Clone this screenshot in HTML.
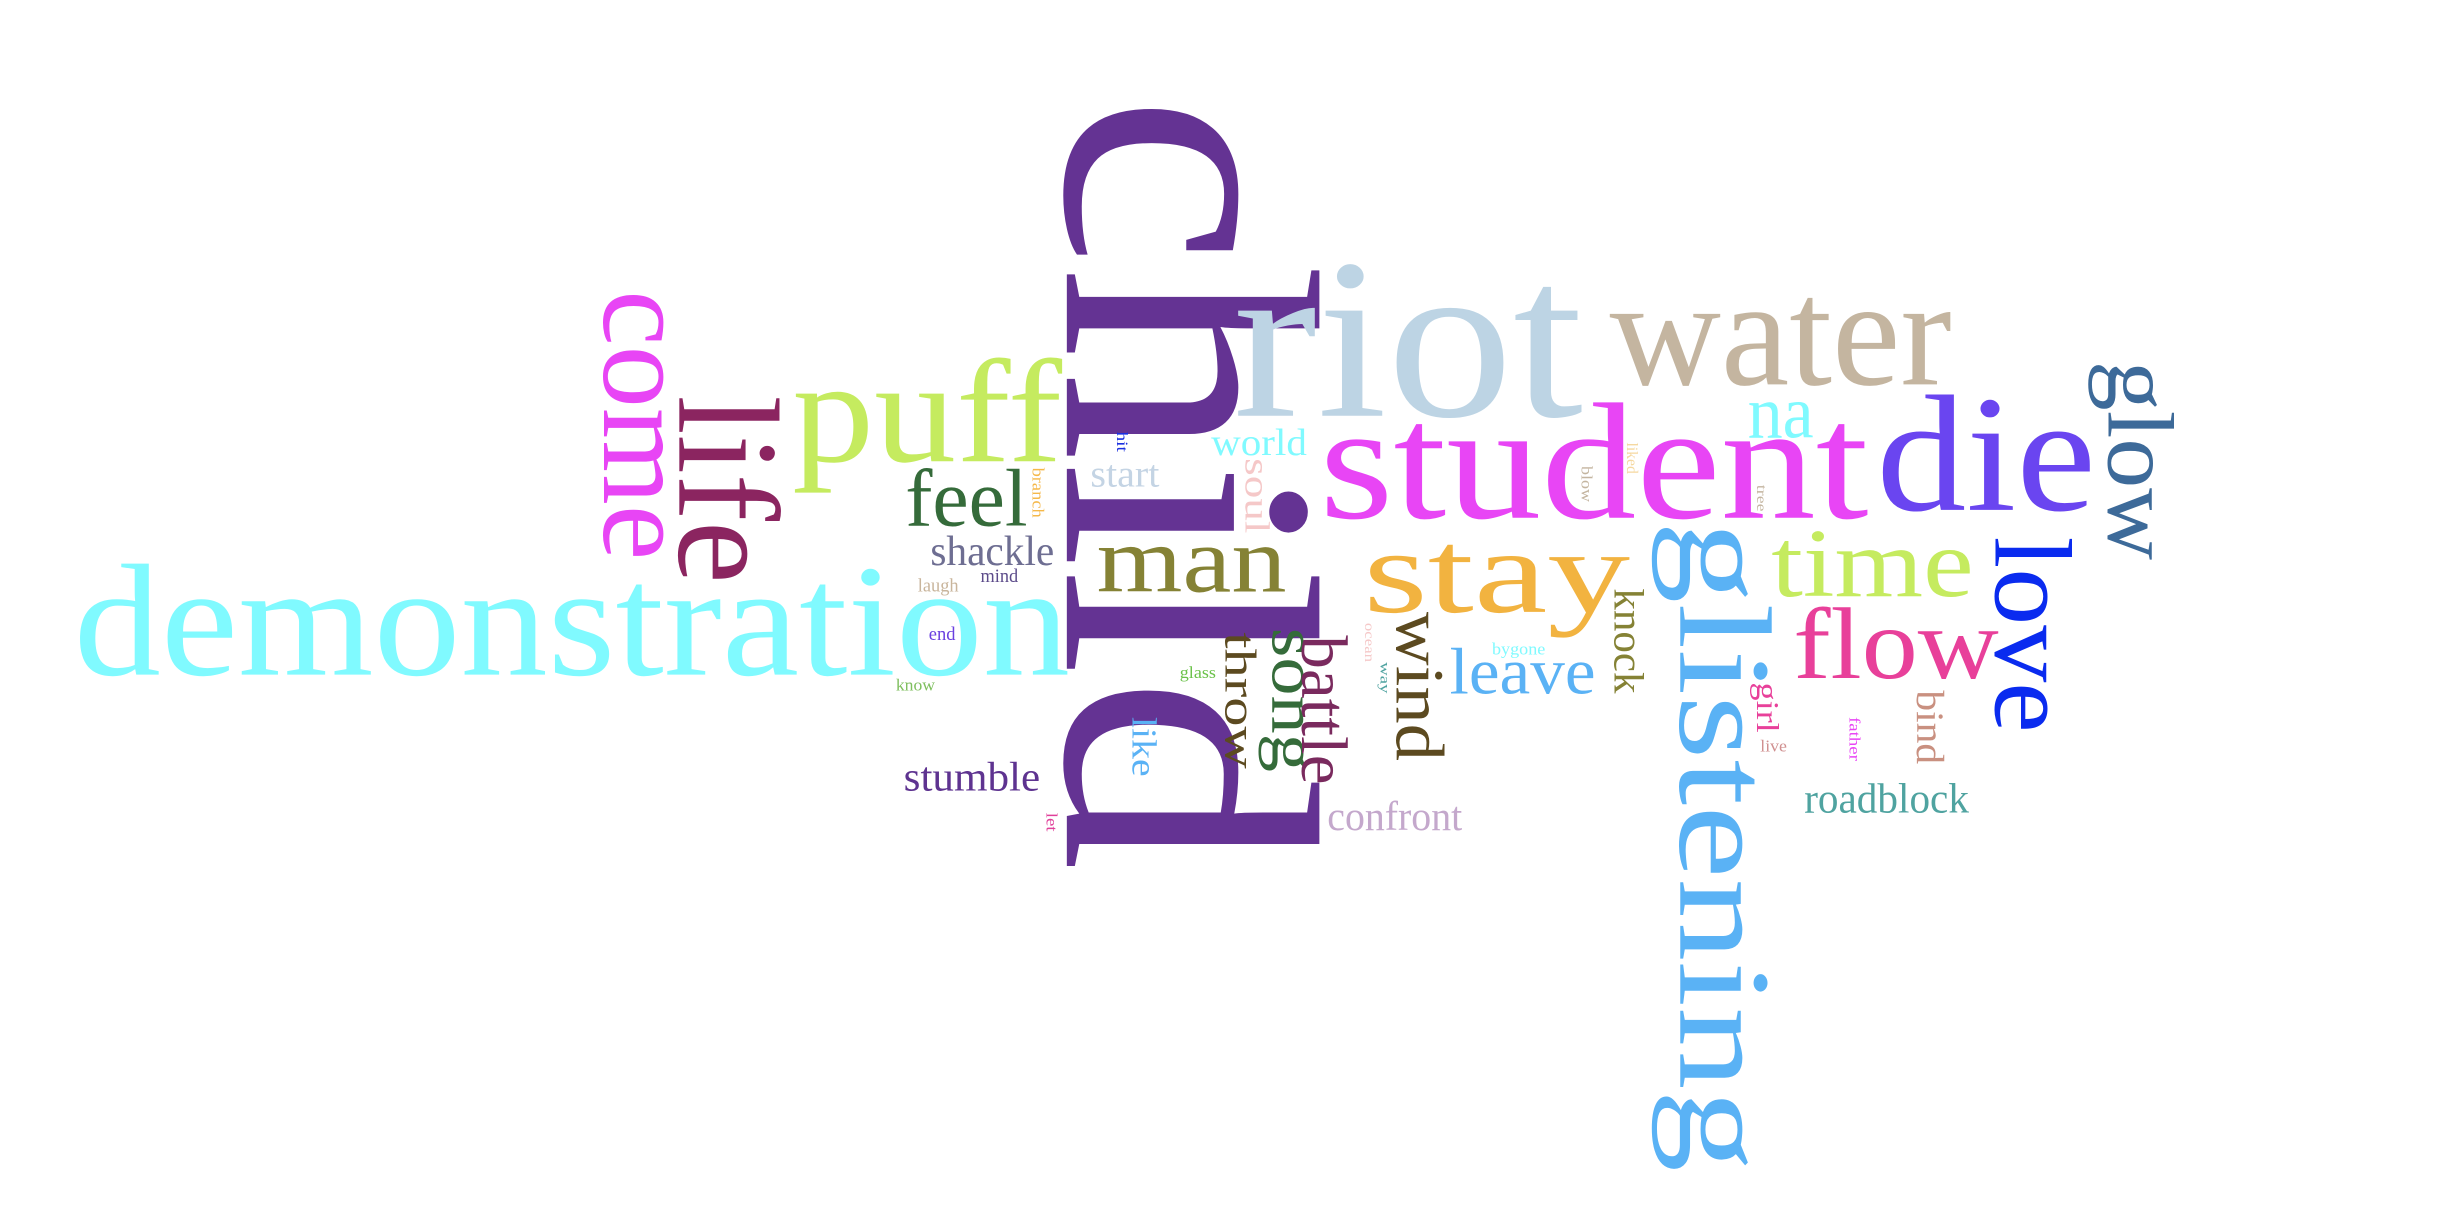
<!DOCTYPE html>
<html><head><meta charset="utf-8"><style>
html,body{margin:0;padding:0;background:#fff;width:2460px;height:1226px;overflow:hidden}
svg text{font-family:"Liberation Serif","DejaVu Serif",serif}
</style></head><body>
<svg width="2460" height="1226" viewBox="0 0 1568 781.4" xmlns="http://www.w3.org/2000/svg">
<rect width="1568" height="781.4" fill="#fff"/>
<!-- rotated words: translate(baselineX, startY) rotate(90) -->
<text transform="translate(680,60) rotate(90)" font-size="232" fill="#643393" textLength="495" lengthAdjust="spacingAndGlyphs">child</text>
<text transform="translate(1071,332) rotate(90)" font-size="84" fill="#5AB2F5" textLength="415" lengthAdjust="spacingAndGlyphs">glistening</text>
<text transform="translate(385,185) rotate(90)" font-size="80" fill="#E845F5" textLength="172" lengthAdjust="spacingAndGlyphs">come</text>
<text transform="translate(433,252) rotate(90)" font-size="92" fill="#8B2560" textLength="120" lengthAdjust="spacingAndGlyphs">life</text>
<text transform="translate(1272,342) rotate(90)" font-size="70" fill="#0A2BEF" textLength="125" lengthAdjust="spacingAndGlyphs">love</text>
<text transform="translate(1344,230) rotate(90)" font-size="60" fill="#3D6A99" textLength="127" lengthAdjust="spacingAndGlyphs">glow</text>
<text transform="translate(811,400) rotate(90)" font-size="42" fill="#356B3A" textLength="92" lengthAdjust="spacingAndGlyphs">song</text>
<text transform="translate(830,405) rotate(90)" font-size="42" fill="#7A2A5E" textLength="95" lengthAdjust="spacingAndGlyphs">battle</text>
<text transform="translate(890,390) rotate(90)" font-size="44" fill="#5C4A20" textLength="95" lengthAdjust="spacingAndGlyphs">wind</text>
<text transform="translate(781,403) rotate(90)" font-size="28" fill="#5C4A20" textLength="87" lengthAdjust="spacingAndGlyphs">throw</text>
<text transform="translate(794,292) rotate(90)" font-size="22" fill="#F5C8C8" textLength="48" lengthAdjust="spacingAndGlyphs">soul</text>
<text transform="translate(1029,375) rotate(90)" font-size="27" fill="#858235" textLength="67" lengthAdjust="spacingAndGlyphs">knock</text>
<text transform="translate(1222,440) rotate(90)" font-size="25" fill="#C99080" textLength="47" lengthAdjust="spacingAndGlyphs">bind</text>
<text transform="translate(1120,435) rotate(90)" font-size="20" fill="#E8409A" textLength="32" lengthAdjust="spacingAndGlyphs">girl</text>
<text transform="translate(1179,457) rotate(90)" font-size="10" fill="#E845F5" textLength="28" lengthAdjust="spacingAndGlyphs">father</text>
<text transform="translate(722,457) rotate(90)" font-size="22" fill="#5AB2F5" textLength="38" lengthAdjust="spacingAndGlyphs">like</text>
<text transform="translate(667,518) rotate(90)" font-size="10" fill="#E0409A" textLength="12" lengthAdjust="spacingAndGlyphs">let</text>
<text transform="translate(658,298) rotate(90)" font-size="11" fill="#F5B84A" textLength="32" lengthAdjust="spacingAndGlyphs">branch</text>
<text transform="translate(712,275) rotate(90)" font-size="10" fill="#1A2FE0" textLength="13" lengthAdjust="spacingAndGlyphs">hit</text>
<text transform="translate(870,397) rotate(90)" font-size="9" fill="#F5C8C8" textLength="25" lengthAdjust="spacingAndGlyphs">ocean</text>
<text transform="translate(880,422) rotate(90)" font-size="9" fill="#4FA3A0" textLength="20" lengthAdjust="spacingAndGlyphs">way</text>
<text transform="translate(1037,282) rotate(90)" font-size="10" fill="#F5D8A0" textLength="20" lengthAdjust="spacingAndGlyphs">liked</text>
<text transform="translate(1008,297) rotate(90)" font-size="10" fill="#C4B5A0" textLength="23" lengthAdjust="spacingAndGlyphs">blow</text>
<text transform="translate(1120,309) rotate(90)" font-size="9" fill="#C4B5A0" textLength="17" lengthAdjust="spacingAndGlyphs">tree</text>
<!-- horizontal words -->
<text x="47" y="430" font-size="102" fill="#80FAFF" textLength="635" lengthAdjust="spacingAndGlyphs">demonstration</text>
<text x="505" y="294" font-size="94" fill="#C5EB5F" textLength="172" lengthAdjust="spacingAndGlyphs">puff</text>
<text x="577" y="335" font-size="52" fill="#356B3A" textLength="78" lengthAdjust="spacingAndGlyphs">feel</text>
<text x="593" y="360" font-size="27" fill="#6E6E92" textLength="79" lengthAdjust="spacingAndGlyphs">shackle</text>
<text x="625" y="371" font-size="12" fill="#5C4B8A" textLength="24" lengthAdjust="spacingAndGlyphs">mind</text>
<text x="585" y="377" font-size="12" fill="#C9B59C" textLength="26" lengthAdjust="spacingAndGlyphs">laugh</text>
<text x="592" y="408" font-size="12" fill="#6A3FE0" textLength="17" lengthAdjust="spacingAndGlyphs">end</text>
<text x="571" y="440" font-size="11" fill="#7FBF5F" textLength="25" lengthAdjust="spacingAndGlyphs">know</text>
<text x="752" y="432" font-size="11" fill="#6BC24A" textLength="23" lengthAdjust="spacingAndGlyphs">glass</text>
<text x="576" y="504" font-size="26" fill="#5E3390" textLength="87" lengthAdjust="spacingAndGlyphs">stumble</text>
<text x="695" y="310" font-size="24" fill="#C4D4E4" textLength="44" lengthAdjust="spacingAndGlyphs">start</text>
<text x="699" y="377" font-size="60" fill="#858235" textLength="121" lengthAdjust="spacingAndGlyphs">man</text>
<text x="772" y="290" font-size="24" fill="#80FAFF" textLength="61" lengthAdjust="spacingAndGlyphs">world</text>
<text x="846" y="529" font-size="26" fill="#C4A8CC" textLength="86" lengthAdjust="spacingAndGlyphs">confront</text>
<text x="951" y="417" font-size="11" fill="#80FAFF" textLength="34" lengthAdjust="spacingAndGlyphs">bygone</text>
<text x="924" y="442" font-size="42" fill="#5AB2F5" textLength="93" lengthAdjust="spacingAndGlyphs">leave</text>
<text x="869" y="390" font-size="76" fill="#F2B340" textLength="170" lengthAdjust="spacingAndGlyphs">stay</text>
<text x="786" y="265" font-size="146" fill="#BDD4E4" textLength="223" lengthAdjust="spacingAndGlyphs">riot</text>
<text x="1026" y="245" font-size="98" fill="#C4B5A0" textLength="218" lengthAdjust="spacingAndGlyphs">water</text>
<text x="1114" y="279" font-size="48" fill="#80FAFF" textLength="42" lengthAdjust="spacingAndGlyphs">na</text>
<text x="841" y="330" font-size="106" fill="#E845F5" textLength="350" lengthAdjust="spacingAndGlyphs">student</text>
<text x="1196" y="325" font-size="106" fill="#6A45F0" textLength="140" lengthAdjust="spacingAndGlyphs">die</text>
<text x="1129" y="380" font-size="62" fill="#C5EB5F" textLength="129" lengthAdjust="spacingAndGlyphs">time</text>
<text x="1143" y="432" font-size="65" fill="#E8409A" textLength="131" lengthAdjust="spacingAndGlyphs">flow</text>
<text x="1122" y="479" font-size="11" fill="#D09090" textLength="17" lengthAdjust="spacingAndGlyphs">live</text>
<text x="1150" y="518" font-size="27" fill="#4FA3A0" textLength="105" lengthAdjust="spacingAndGlyphs">roadblock</text>
</svg>
</body></html>
